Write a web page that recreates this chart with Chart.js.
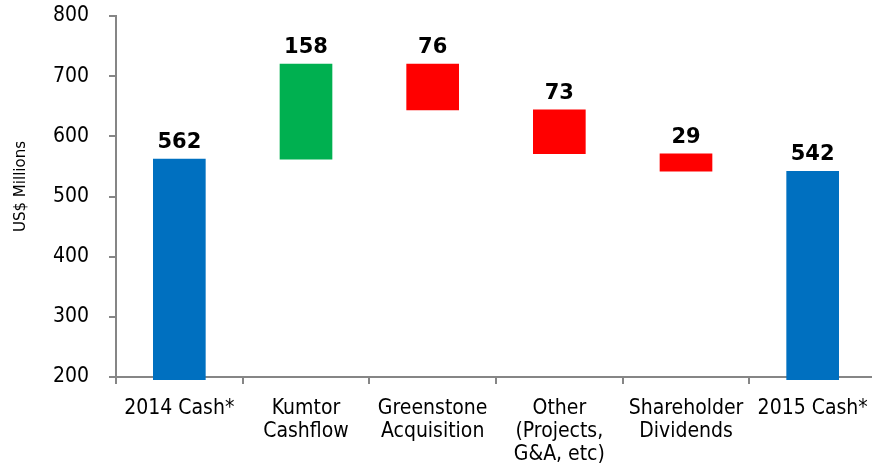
<!DOCTYPE html>
<html><head><meta charset="utf-8">
<script src="https://cdn.jsdelivr.net/npm/chart.js@4.4.1/dist/chart.umd.min.js"></script>
<style>html,body{margin:0;padding:0;overflow:hidden;background:#fff}#wrap{width:878px;height:471px}</style>
</head><body><div id="wrap"><canvas id="c" width="878" height="471"></canvas></div>
<script>
// ---- data ----
const categories = [
  ['2014 Cash*'],
  ['Kumtor', 'Cashflow'],
  ['Greenstone', 'Acquisition'],
  ['Other', '(Projects,', 'G&A, etc)'],
  ['Shareholder', 'Dividends'],
  ['2015 Cash*']
];
const changes = [562, 158, -76, -73, -29, 542];
const isTotal = [true, false, false, false, false, true];
const valueLabels = ['562', '158', '76', '73', '29', '542'];
const yAxisTitle = 'US$ Millions';
const yMin = 200, yMax = 800, yStep = 100;

// ---- styles ----
const colorTotal = '#0070C0', colorUp = '#00B050', colorDown = '#FF0000';
const axisGray = '#868686';
const regFont = '"DejaVu Sans Condensed", "Liberation Sans", sans-serif';
const boldFont = '"DejaVu Sans", sans-serif';

let run = 0;
const ranges = [], colors = [];
changes.forEach((v, i) => {
  if (isTotal[i]) { ranges.push([0, v]); run = v; colors.push(colorTotal); }
  else { ranges.push([run, run + v]); run += v; colors.push(v >= 0 ? colorUp : colorDown); }
});

const valueLabelPlugin = {
  id: 'valueLabels',
  afterDatasetsDraw(chart) {
    const ctx = chart.ctx, meta = chart.getDatasetMeta(0);
    ctx.save();
    ctx.font = 'bold 21px ' + boldFont;
    ctx.fillStyle = '#000';
    ctx.textAlign = 'center';
    ctx.textBaseline = 'alphabetic';
    meta.data.forEach((bar, i) => {
      const top = Math.min(bar.y, bar.base);
      ctx.fillText(valueLabels[i], bar.x, top - 11);
    });
    ctx.restore();
  }
};

const yTitlePlugin = {
  id: 'yTitle',
  afterDraw(chart) {
    const ctx = chart.ctx, a = chart.chartArea;
    ctx.save();
    ctx.font = '15px "DejaVu Sans", sans-serif';
    ctx.fillStyle = '#000';
    ctx.textAlign = 'center';
    ctx.textBaseline = 'middle';
    ctx.translate(21, (a.top + a.bottom) / 2 - 10);
    ctx.rotate(-Math.PI / 2);
    ctx.fillText(yAxisTitle, 0, 0);
    ctx.restore();
  }
};

new Chart(document.getElementById('c'), {
  type: 'bar',
  data: {
    labels: categories,
    datasets: [{
      data: ranges,
      backgroundColor: colors,
      borderWidth: 0,
      barThickness: 52,
      clip: {left: 0, top: 0, right: 0, bottom: 3}
    }]
  },
  options: {
    responsive: false,
    animation: false,
    layout: {padding: {top: 16, right: 2, left: 0, bottom: 0}},
    plugins: {legend: {display: false}, tooltip: {enabled: false}},
    scales: {
      x: {
        grid: {display: true, drawOnChartArea: false, drawTicks: true, tickLength: 7, color: axisGray, lineWidth: 2, offset: true},
        border: {color: axisGray, width: 2},
        ticks: {color: '#000', font: {family: regFont, size: 21, lineHeight: 1.1}, padding: 13, maxRotation: 0, autoSkip: false},
        afterFit(s) { s.height = 94; s.paddingLeft = 0; s.paddingRight = 0; }
      },
      y: {
        min: yMin, max: yMax,
        ticks: {stepSize: yStep, color: '#000', font: {family: regFont, size: 21}, padding: 20},
        grid: {drawOnChartArea: false, drawTicks: true, tickLength: 7, color: axisGray, lineWidth: 2},
        border: {color: axisGray, width: 2},
        afterFit(s) { s.width = 116; s.paddingTop = 0; s.paddingBottom = 0; }
      }
    }
  },
  plugins: [valueLabelPlugin, yTitlePlugin]
});
</script>
</body></html>
